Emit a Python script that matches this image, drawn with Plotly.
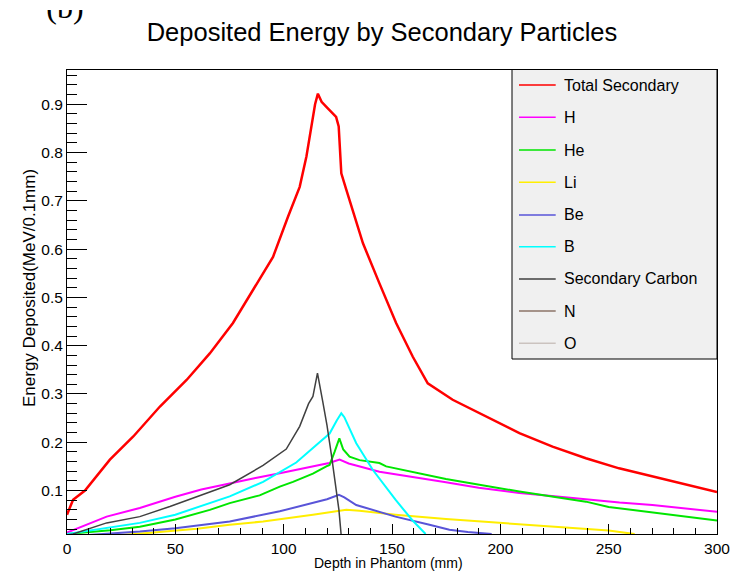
import plotly.graph_objects as go

# ---------------- data ----------------
depth_total = [0, 1.4, 2.8, 8.3, 19.8, 30.6, 42.9, 55.2, 65.9, 76.6, 85.9, 95.1, 102.0,
               107.4, 110.5, 112.8, 114.5, 115.8, 117.5, 119.6, 122.0, 124.2, 125.4, 125.8,
               126.6, 128.9, 132.7, 136.6, 144.2, 151.9, 159.6, 166.5, 178.0, 193.4, 208.8,
               224.1, 239.5, 254.8, 270.2, 285.5, 300]
total_secondary = [0.050, 0.067, 0.081, 0.100, 0.164, 0.212, 0.274, 0.329, 0.384, 0.447, 0.516,
                   0.584, 0.667, 0.729, 0.792, 0.855, 0.900, 0.922, 0.905, 0.895, 0.885, 0.874,
                   0.854, 0.812, 0.757, 0.723, 0.667, 0.612, 0.529, 0.447, 0.377, 0.322, 0.288,
                   0.253, 0.219, 0.191, 0.167, 0.146, 0.129, 0.112, 0.097]

depth_h = [0, 18.3, 33.6, 50, 62, 75.1, 87, 98.2, 113.5, 121, 125.8, 130, 144.2, 160, 174.9,
           190, 208.8, 225, 239.5, 255, 270.2, 285, 300]
h_values = [0.013, 0.046, 0.064, 0.087, 0.102, 0.115, 0.126, 0.136, 0.150, 0.157, 0.164, 0.156,
            0.139, 0.127, 0.117, 0.106, 0.095, 0.088, 0.081, 0.075, 0.070, 0.063, 0.056]

depth_he = [0, 20, 33.6, 50, 65.9, 75.1, 88.9, 98.2, 104.3, 113.5, 119.7, 121.2, 123.5, 125.7,
            127.5, 130.4, 135, 144.2, 147.3, 159.6, 174.9, 208.8, 239.5, 250, 270, 300]
he_values = [0.010, 0.018, 0.025, 0.040, 0.060, 0.074, 0.090, 0.108, 0.118, 0.135, 0.150, 0.153,
             0.180, 0.208, 0.185, 0.170, 0.163, 0.157, 0.150, 0.139, 0.124, 0.098, 0.077, 0.066,
             0.055, 0.038]

depth_li = [0, 25, 40, 60, 75.1, 90.5, 113.5, 122, 128.9, 135, 151.6, 174.9, 200, 225, 250, 262]
li_values = [0.003, 0.008, 0.013, 0.021, 0.029, 0.036, 0.050, 0.055, 0.060, 0.058, 0.050, 0.041,
             0.033, 0.025, 0.017, 0.010]

depth_be = [0, 20, 33.6, 50, 75.1, 98.2, 113.5, 120, 125.5, 128, 133.5, 151.6, 167.3, 176.5,
            185, 196]
be_values = [0.005, 0.011, 0.015, 0.022, 0.036, 0.057, 0.074, 0.082, 0.091, 0.086, 0.070, 0.046,
             0.029, 0.019, 0.014, 0.010]

depth_b = [0, 18, 33.6, 50, 65.9, 75.1, 90.5, 105.8, 113.5, 121.2, 124.5, 126.6, 128, 133.5,
           141.1, 151.6, 159.3, 165.5]
b_values = [0.010, 0.022, 0.033, 0.050, 0.074, 0.088, 0.118, 0.158, 0.188, 0.218, 0.245, 0.260,
            0.252, 0.198, 0.143, 0.081, 0.039, 0.010]

depth_c = [0, 2.8, 18.3, 33.6, 47.5, 64.4, 75.1, 90.5, 101.2, 107.4, 111.5, 113.5, 115.6, 118,
           120, 122, 124, 125.5, 126.5]
c_values = [0.008, 0.010, 0.033, 0.046, 0.067, 0.095, 0.112, 0.152, 0.186, 0.233, 0.280, 0.295,
            0.343, 0.285, 0.235, 0.175, 0.110, 0.060, 0.010]

depth_n = [0, 100, 125, 130, 300]
n_values = [0.002, 0.004, 0.008, 0.002, 0.0]

depth_o = [0, 300]
o_values = [0.0, 0.0]

series_names = ["Total Secondary", "H", "He", "Li", "Be", "B", "Secondary Carbon", "N", "O"]
series_x = [depth_total, depth_h, depth_he, depth_li, depth_be, depth_b, depth_c, depth_n, depth_o]
series_y = [total_secondary, h_values, he_values, li_values, be_values, b_values, c_values,
            n_values, o_values]

x_range = [0, 300]
y_range = [0.01, 0.972]

title_text = "Deposited Energy by Secondary Particles"
x_title = "Depth in Phantom (mm)"
y_title = "Energy Deposited(MeV/0.1mm)"
panel_label = "(b)"

# ---------------- style / layout ----------------
colors = ["#ff0000", "#ff00ff", "#00e600", "#ffee00", "#5954d8", "#00ffff", "#404040",
          "#8c7468", "#cbc3bf"]
widths = [2.5, 2, 2, 2, 2, 2, 1.5, 1, 1]
FONT = "Liberation Sans, Arial, Helvetica, sans-serif"

W, H = 730, 577
ML, MR, MT, MB = 30, 13, 10, 43          # paper area spans x 30..717, y 10..534 (pixels)
PW, PH = W - ML - MR, H - MT - MB


def px_x(p):
    return (p - ML) / PW


def px_y(p):
    return (H - MB - p) / PH


fig = go.Figure()
for xs, ys, c, w, name in zip(series_x, series_y, colors, widths, series_names):
    fig.add_trace(go.Scatter(x=xs, y=ys, mode="lines", name=name,
                             line=dict(color=c, width=w), showlegend=False))

# partially cut-off panel label (clipped by a tiny invisible subplot whose top edge is y=10px)
fig.add_trace(go.Scatter(x=[0.5], y=[1.0], mode="text", text=[panel_label],
                         textposition="middle center", cliponaxis=True, showlegend=False,
                         hoverinfo="skip",
                         textfont=dict(family="Liberation Serif, Times New Roman, serif",
                                       size=32, color="black"),
                         xaxis="x2", yaxis="y2"))

tickfont = dict(family=FONT, size=15.5, color="black")
fig.update_layout(
    width=W, height=H,
    margin=dict(l=ML, r=MR, t=MT, b=MB, autoexpand=False),
    paper_bgcolor="white", plot_bgcolor="white",
    font=dict(family=FONT, color="black"),
    title=dict(text=title_text, x=382 / W, xanchor="center",
               y=1 - 32 / H, yanchor="middle", yref="container",
               font=dict(family=FONT, size=25.5, color="black")),
    xaxis=dict(domain=[px_x(67), 1], range=x_range, showgrid=False, zeroline=False,
               showline=True, mirror=True, linecolor="black", linewidth=1, ticks="inside",
               ticklen=10, tickwidth=1, tickcolor="black", tick0=0, dtick=50,
               ticklabeloverflow="allow",
               minor=dict(ticks="inside", ticklen=6, dtick=10, tickcolor="black", tickwidth=1),
               tickfont=tickfont),
    yaxis=dict(domain=[0, px_y(69.5)], range=y_range, showgrid=False, zeroline=False,
               showline=True, mirror=True, linecolor="black", linewidth=1, ticks="inside",
               ticklen=20, tickwidth=1, tickcolor="black", tick0=0, dtick=0.1,
               ticklabeloverflow="allow",
               minor=dict(ticks="inside", ticklen=10, dtick=0.02, tickcolor="black", tickwidth=1),
               tickfont=tickfont),
    xaxis2=dict(domain=[px_x(30), px_x(100)], range=[0, 1], visible=False, fixedrange=True,
                anchor="y2"),
    yaxis2=dict(domain=[px_y(60), 1], range=[0, 1], visible=False, fixedrange=True,
                anchor="x2"),
)

# axis titles
fig.add_annotation(text=x_title, xref="paper", yref="paper",
                   x=px_x(388), y=px_y(563), xanchor="center", yanchor="middle",
                   showarrow=False, font=dict(family=FONT, size=14, color="black"))
fig.add_annotation(text=y_title, xref="paper", yref="paper",
                   x=px_x(29), y=px_y(288), xanchor="center", yanchor="middle",
                   textangle=-90, showarrow=False, font=dict(family=FONT, size=17, color="black"))

# manual legend box (ROOT style)
fig.add_shape(type="rect", xref="paper", yref="paper", x0=px_x(512), x1=px_x(717),
              y0=px_y(359), y1=px_y(69.5), fillcolor="#f0f0f0",
              line=dict(color="black", width=1), layer="above")
entry_y = [85, 117.3, 150, 182.3, 215, 246.7, 279, 311, 343.3]
for name, c, ey in zip(series_names, colors, entry_y):
    fig.add_shape(type="line", xref="paper", yref="paper", x0=px_x(519), x1=px_x(555.7),
                  y0=px_y(ey), y1=px_y(ey), line=dict(color=c, width=1.5), layer="above")
    fig.add_annotation(text=name, xref="paper", yref="paper", x=px_x(562), y=px_y(ey),
                       xanchor="left", yanchor="middle", showarrow=False,
                       font=dict(family=FONT, size=16, color="black"))

fig.write_html("out.html", config={"displayModeBar": False},
               post_script="document.body.style.margin='0px';")
